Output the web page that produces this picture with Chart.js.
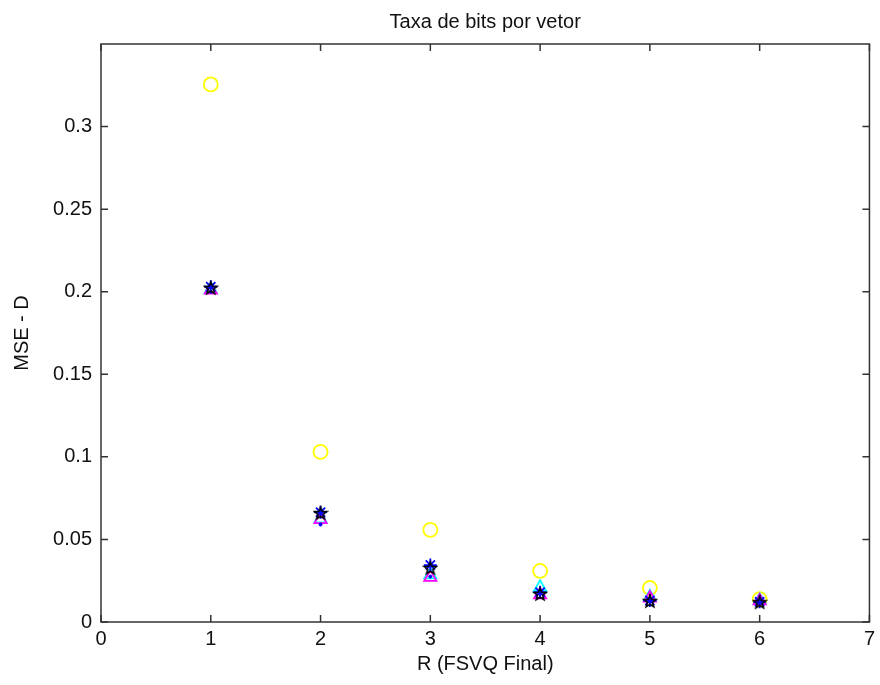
<!DOCTYPE html>
<html>
<head>
<meta charset="utf-8">
<script src="https://cdn.jsdelivr.net/npm/chart.js@4.4.1/dist/chart.umd.min.js"></script>
<style>
  body { margin: 0; background: #fff; }
  #wrap { width: 880px; height: 685px; }
</style>
</head>
<body>
<div id="wrap"><canvas id="msePlot" width="880" height="685"></canvas></div>
<script>
// taxas (eixo x)
const rates = [1, 2, 3, 4, 5, 6];
// valores MSE
const mseYellow  = [0.3255, 0.103, 0.0558, 0.0309, 0.0206, 0.0139];
const mseCyan    = [0.2015, 0.0625, 0.0285, 0.021, 0.0152, 0.0132];
const mseMagenta = [0.2010, 0.0620, 0.0270, 0.0165, 0.0145, 0.0128];
const mseDots    = [0.2000, 0.0590, 0.0275, 0.0170, 0.0130, 0.0122];
const mseBlue    = [0.2030, 0.0665, 0.0345, 0.0180, 0.0130, 0.0122];
const mseBlack   = [0.2024, 0.0660, 0.0327, 0.0170, 0.0127, 0.0120];
// marcas dos eixos
const xTicks = [0, 1, 2, 3, 4, 5, 6, 7];
const yTicks = [0, 0.05, 0.1, 0.15, 0.2, 0.25, 0.3];
const chartTitle = 'Taxa de bits por vetor';

function pts(ys) {
    return rates.map((r, i) => ({ x: r, y: ys[i] }));
}

// pentagrama preto (marcador 'p' do MATLAB)
function pentagram(size, color) {
    const c = document.createElement('canvas');
    c.width = size; c.height = size;
    const g = c.getContext('2d');
    const cx = size / 2, cy = size / 2 + 0.5, R = size / 2 - 1.5, r = R * 0.42;
    g.beginPath();
    for (let k = 0; k < 10; k++) {
        const a = -Math.PI / 2 + k * Math.PI / 5;
        const rr = k % 2 === 0 ? R : r;
        const px = cx + rr * Math.cos(a), py = cy + rr * Math.sin(a);
        if (k === 0) g.moveTo(px, py); else g.lineTo(px, py);
    }
    g.closePath();
    g.strokeStyle = color;
    g.lineWidth = 1.6;
    g.stroke();
    return c;
}

const fontFam = '"Liberation Sans", Arial, sans-serif';

// caixa, marcas internas e título centrado na área do gráfico (como no MATLAB)
const boxPlugin = {
    id: 'boxTicks',
    afterDraw(chart) {
        const { ctx, chartArea: a, scales } = chart;
        ctx.save();
        ctx.strokeStyle = '#333';
        ctx.lineWidth = 1.5;
        ctx.strokeRect(a.left, a.top, a.right - a.left, a.bottom - a.top);
        ctx.beginPath();
        xTicks.forEach(v => {
            const px = scales.x.getPixelForValue(v);
            ctx.moveTo(px, a.bottom); ctx.lineTo(px, a.bottom - 7);
            ctx.moveTo(px, a.top); ctx.lineTo(px, a.top + 7);
        });
        yTicks.forEach(v => {
            const py = scales.y.getPixelForValue(v);
            ctx.moveTo(a.left, py); ctx.lineTo(a.left + 7, py);
            ctx.moveTo(a.right, py); ctx.lineTo(a.right - 7, py);
        });
        ctx.stroke();

        ctx.fillStyle = '#111';
        ctx.font = '20px ' + fontFam;
        ctx.textAlign = 'center';
        ctx.textBaseline = 'middle';
        ctx.fillText(chartTitle, (a.left + a.right) / 2, 22);
        ctx.restore();
    }
};

const ctx = document.getElementById('msePlot').getContext('2d');

new Chart(ctx, {
    type: 'scatter',
    data: {
        datasets: [
            { label: 'o', data: pts(mseYellow), pointStyle: 'circle', radius: 7,
              borderColor: '#ffff00', backgroundColor: 'transparent', borderWidth: 1.8, order: 6 },
            { label: 'c^', data: pts(mseCyan), pointStyle: 'triangle', radius: 7,
              borderColor: '#00ffff', backgroundColor: 'transparent', borderWidth: 1.8, order: 5 },
            { label: 'm^', data: pts(mseMagenta), pointStyle: 'triangle', radius: 7,
              borderColor: '#ff00ff', backgroundColor: 'transparent', borderWidth: 1.8, order: 4 },
            { label: 'b.', data: pts(mseDots), pointStyle: 'circle', radius: 1.5,
              borderColor: '#0000ff', backgroundColor: '#0000ff', borderWidth: 1, order: 3 },
            { label: 'b*', data: pts(mseBlue), pointStyle: 'star', radius: 6.5,
              borderColor: '#0000ff', backgroundColor: 'transparent', borderWidth: 1.8, order: 2 },
            { label: 'kp', data: pts(mseBlack), pointStyle: pentagram(16, '#000'), radius: 7,
              order: 1 }
        ]
    },
    options: {
        responsive: false,
        animation: false,
        layout: { padding: { left: 0, right: 8, top: 44, bottom: 0 } },
        scales: {
            x: {
                type: 'linear', min: 0, max: 7,
                afterBuildTicks: s => { s.ticks = xTicks.map(v => ({ value: v })); },
                afterFit: s => { s.height = 63; },
                grid: { display: false, tickLength: 0 },
                border: { display: false },
                ticks: { color: '#111', font: { family: fontFam, size: 20 }, padding: 5 },
                title: { display: true, text: 'R (FSVQ Final)', color: '#111',
                         font: { family: fontFam, size: 20 }, padding: { top: 9, bottom: 9 } }
            },
            y: {
                type: 'linear', min: 0, max: 0.35,
                afterBuildTicks: s => { s.ticks = yTicks.map(v => ({ value: v })); },
                afterFit: s => { s.width = 101; },
                grid: { display: false, tickLength: 0 },
                border: { display: false },
                ticks: { color: '#111', font: { family: fontFam, size: 20 }, padding: 9,
                         callback: v => String(Math.round(v * 100) / 100) },
                title: { display: true, text: 'MSE - D', color: '#111',
                         font: { family: fontFam, size: 20 }, padding: { top: 10, bottom: 10 } }
            }
        },
        plugins: {
            legend: { display: false },
            tooltip: { enabled: false },
            title: { display: false }
        }
    },
    plugins: [boxPlugin]
});
</script>
</body>
</html>
